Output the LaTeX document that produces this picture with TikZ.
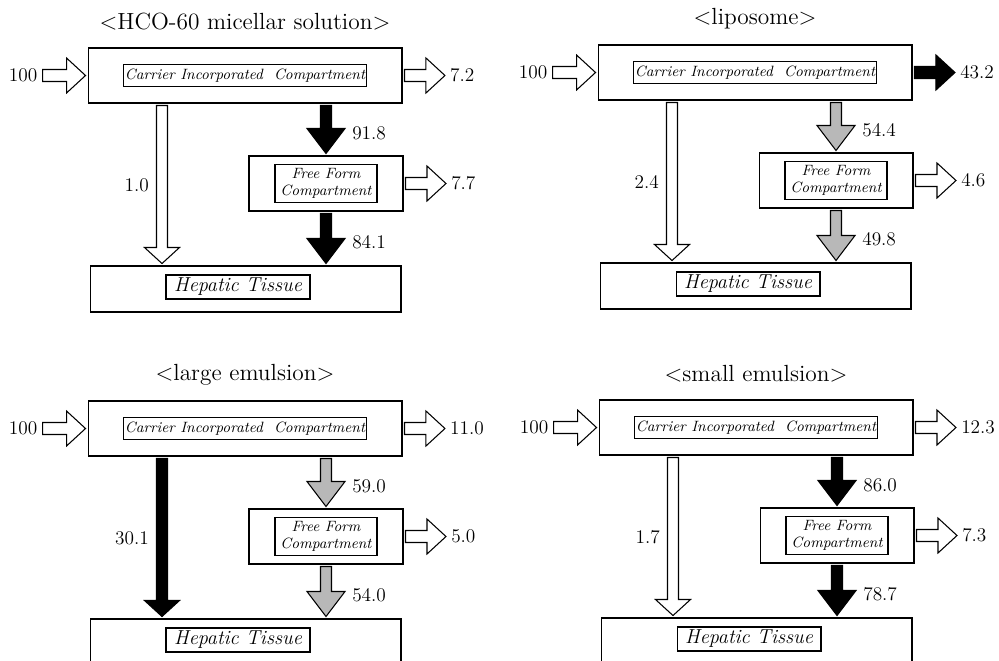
\documentclass[tikz,border=0pt]{standalone}
\usepackage{tikz}
\usetikzlibrary{calc,positioning}
\tikzset{
  fatshaft/.store in=\fatshaft,
  fathead/.store in=\fathead,
  fatlen/.store in=\fatlen,
  fatshaft=0.12cm, fathead=0.35cm, fatlen=0.38cm,
  fat/.style={draw=black,line width=0.6pt,line join=miter,to path={
      ($(\tikztostart)!\fatshaft!90:(\tikztotarget)$)
      -- ($(\tikztotarget)!\fatlen!(\tikztostart)!\fatshaft!90:(\tikztotarget)$)
      -- ($(\tikztotarget)!\fatlen!(\tikztostart)!\fathead!90:(\tikztotarget)$)
      -- (\tikztotarget)
      -- ($(\tikztotarget)!\fatlen!(\tikztostart)!\fathead!-90:(\tikztotarget)$)
      -- ($(\tikztotarget)!\fatlen!(\tikztostart)!\fatshaft!-90:(\tikztotarget)$)
      -- ($(\tikztostart)!\fatshaft!-90:(\tikztotarget)$) -- cycle}}
}

\begin{document}
\begin{tikzpicture}[
    x=0.02cm,y=-0.02cm,
    ttl/.style={font=\fontsize{13.3}{16}\selectfont},
    box/.style={draw,line width=0.6pt,minimum height=1.1cm,outer sep=0.05cm},
    lbl/.style={draw,line width=0.6pt,inner sep=1pt,align=center,
      font=\fontsize{8.5}{9.6}\selectfont\itshape},
    cicl/.style={minimum width=4.82cm,minimum height=0.44cm},
    ffl/.style={minimum width=2.04cm,minimum height=0.76cm},
    htl/.style={minimum width=2.88cm,minimum height=0.48cm,
      font=\fontsize{11.5}{13}\selectfont\itshape},
    val/.style={font=\fontsize{11}{13}\selectfont,inner sep=1pt,outer sep=2pt},
    wht/.style={fill=white},
    blk/.style={fill=black},
    gry/.style={fill=black!28},
    midarr/.style={fatshaft=0.11cm,fathead=0.38cm,fatlen=0.5cm},
    longarr/.style={fatshaft=0.11cm,fathead=0.35cm,fatlen=0.32cm}
  ]
  \useasboundingbox (0,0) rectangle (999,660);
  \clip (0,0) rectangle (999,660);

  % HCO-60 micellar solution
  \begin{scope}
    \node[ttl] (T1) at (245,22) {\textless HCO-60 micellar solution\textgreater};
    \node[box,minimum width=6.28cm] (CIC1) at (245,75.5) {};
    \node[lbl,cicl] (cic1) at (CIC1) {Carrier Incorporated\ \ Compartment};
    \node[box,minimum width=3.08cm] (FFC1) at (326,183.5) {};
    \node[lbl,ffl] (ffc1) at (FFC1) {Free Form\\Compartment};
    \node[box,minimum width=6.22cm,minimum height=0.92cm] (HT1) at (245.5,289) {};
    \node[lbl,htl] (ht1) at ([xshift=-0.15cm,yshift=0.04cm]HT1.center) {Hepatic Tissue};
    \coordinate (L1) at (162,185);
    \node[val,left=0.86cm of CIC1] (in1) {100};
    \node[val,right=0.81cm of CIC1] (out1) {7.2};
    \node[val,right=0.81cm of FFC1] (outf1) {7.7};
    \node[val,left=0.16cm of L1] (v1) {1.0};
    \node[val,anchor=west] (m1) at ($(FFC1.north)+(21,-20)$) {91.8};
    \node[val,anchor=west] (n1) at ($(HT1.north -| FFC1)+(21,-21)$) {84.1};
    \draw[fat,wht] (in1.east) to (CIC1.west);
    \draw[fat,wht] (CIC1.east) to (out1.west);
    \draw[fat,wht,longarr] (CIC1.south -| L1) to (HT1.north -| L1);
    \draw[fat,blk,midarr] (CIC1.south -| FFC1) to (FFC1.north);
    \draw[fat,wht] (FFC1.east) to (outf1.west);
    \draw[fat,blk,midarr] (FFC1.south) to (HT1.north -| FFC1);
  \end{scope}

  % liposome
  \begin{scope}[shift={(510,-3)}]
    \node[ttl] (T2) at (245,22) {\textless liposome\textgreater};
    \node[box,minimum width=6.28cm] (CIC2) at (245,75.5) {};
    \node[lbl,cicl] (cic2) at (CIC2) {Carrier Incorporated\ \ Compartment};
    \node[box,minimum width=3.08cm] (FFC2) at (326,183.5) {};
    \node[lbl,ffl] (ffc2) at (FFC2) {Free Form\\Compartment};
    \node[box,minimum width=6.22cm,minimum height=0.92cm] (HT2) at (245.5,289) {};
    \node[lbl,htl] (ht2) at ([xshift=-0.15cm,yshift=0.04cm]HT2.center) {Hepatic Tissue};
    \coordinate (L2) at (162,185);
    \node[val,left=0.86cm of CIC2] (in2) {100};
    \node[val,right=0.81cm of CIC2] (out2) {43.2};
    \node[val,right=0.81cm of FFC2] (outf2) {4.6};
    \node[val,left=0.16cm of L2] (v2) {2.4};
    \node[val,anchor=west] (m2) at ($(FFC2.north)+(21,-20)$) {54.4};
    \node[val,anchor=west] (n2) at ($(HT2.north -| FFC2)+(21,-21)$) {49.8};
    \draw[fat,wht] (in2.east) to (CIC2.west);
    \draw[fat,blk] (CIC2.east) to (out2.west);
    \draw[fat,wht,longarr] (CIC2.south -| L2) to (HT2.north -| L2);
    \draw[fat,gry,midarr] (CIC2.south -| FFC2) to (FFC2.north);
    \draw[fat,wht] (FFC2.east) to (outf2.west);
    \draw[fat,gry,midarr] (FFC2.south) to (HT2.north -| FFC2);
  \end{scope}

  % large emulsion
  \begin{scope}[shift={(0,353)}]
    \node[ttl] (T3) at (245,22) {\textless large emulsion\textgreater};
    \node[box,minimum width=6.28cm] (CIC3) at (245,75.5) {};
    \node[lbl,cicl] (cic3) at (CIC3) {Carrier Incorporated\ \ Compartment};
    \node[box,minimum width=3.08cm] (FFC3) at (326,183.5) {};
    \node[lbl,ffl] (ffc3) at (FFC3) {Free Form\\Compartment};
    \node[box,minimum width=6.22cm,minimum height=0.92cm] (HT3) at (245.5,289) {};
    \node[lbl,htl] (ht3) at ([xshift=-0.15cm,yshift=0.04cm]HT3.center) {Hepatic Tissue};
    \coordinate (L3) at (162,185);
    \node[val,left=0.86cm of CIC3] (in3) {100};
    \node[val,right=0.81cm of CIC3] (out3) {11.0};
    \node[val,right=0.81cm of FFC3] (outf3) {5.0};
    \node[val,left=0.16cm of L3] (v3) {30.1};
    \node[val,anchor=west] (m3) at ($(FFC3.north)+(21,-20)$) {59.0};
    \node[val,anchor=west] (n3) at ($(HT3.north -| FFC3)+(21,-21)$) {54.0};
    \draw[fat,wht] (in3.east) to (CIC3.west);
    \draw[fat,wht] (CIC3.east) to (out3.west);
    \draw[fat,blk,longarr] (CIC3.south -| L3) to (HT3.north -| L3);
    \draw[fat,gry,midarr] (CIC3.south -| FFC3) to (FFC3.north);
    \draw[fat,wht] (FFC3.east) to (outf3.west);
    \draw[fat,gry,midarr] (FFC3.south) to (HT3.north -| FFC3);
  \end{scope}

  % small emulsion
  \begin{scope}[shift={(511,352)}]
    \node[ttl] (T4) at (245,22) {\textless small emulsion\textgreater};
    \node[box,minimum width=6.28cm] (CIC4) at (245,75.5) {};
    \node[lbl,cicl] (cic4) at (CIC4) {Carrier Incorporated\ \ Compartment};
    \node[box,minimum width=3.08cm] (FFC4) at (326,183.5) {};
    \node[lbl,ffl] (ffc4) at (FFC4) {Free Form\\Compartment};
    \node[box,minimum width=6.22cm,minimum height=0.92cm] (HT4) at (245.5,289) {};
    \node[lbl,htl] (ht4) at ([xshift=-0.15cm,yshift=0.04cm]HT4.center) {Hepatic Tissue};
    \coordinate (L4) at (162,185);
    \node[val,left=0.86cm of CIC4] (in4) {100};
    \node[val,right=0.81cm of CIC4] (out4) {12.3};
    \node[val,right=0.81cm of FFC4] (outf4) {7.3};
    \node[val,left=0.16cm of L4] (v4) {1.7};
    \node[val,anchor=west] (m4) at ($(FFC4.north)+(21,-20)$) {86.0};
    \node[val,anchor=west] (n4) at ($(HT4.north -| FFC4)+(21,-21)$) {78.7};
    \draw[fat,wht] (in4.east) to (CIC4.west);
    \draw[fat,wht] (CIC4.east) to (out4.west);
    \draw[fat,wht,longarr] (CIC4.south -| L4) to (HT4.north -| L4);
    \draw[fat,blk,midarr] (CIC4.south -| FFC4) to (FFC4.north);
    \draw[fat,wht] (FFC4.east) to (outf4.west);
    \draw[fat,blk,midarr] (FFC4.south) to (HT4.north -| FFC4);
  \end{scope}
\end{tikzpicture}
\end{document}
